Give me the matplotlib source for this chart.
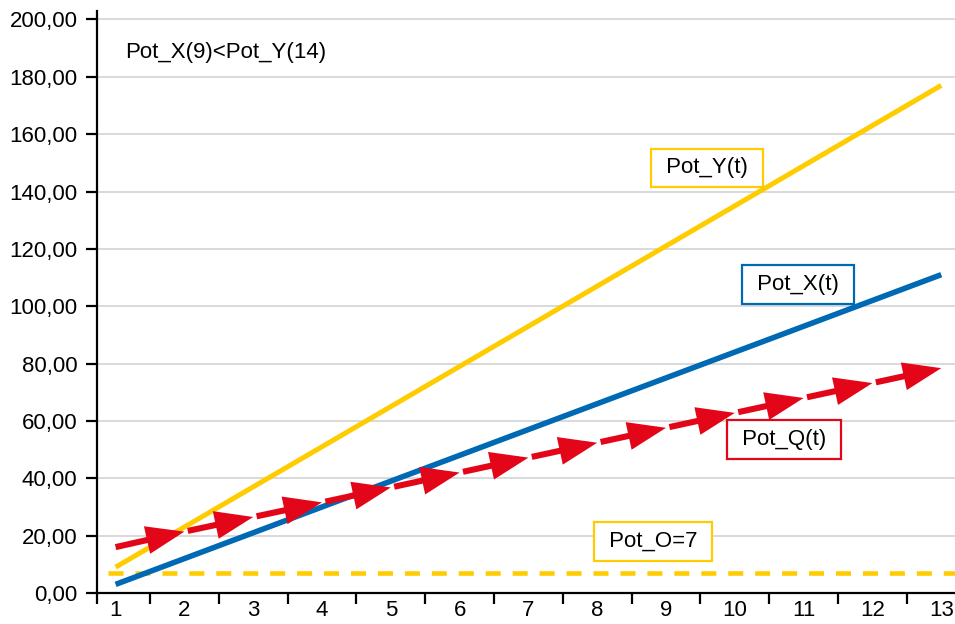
import matplotlib
matplotlib.use("Agg")
import matplotlib.pyplot as plt
from matplotlib.patches import FancyArrowPatch
from matplotlib.ticker import FixedLocator, FuncFormatter

plt.rcParams['font.family'] = ['Liberation Sans', 'DejaVu Sans']
plt.rcParams['lines.scale_dashes'] = False

# ---- data ----
t = [1, 2, 3, 4, 5, 6, 7, 8, 9, 10, 11, 12, 13]
pot_x = [3, 12, 21, 30, 39, 48, 57, 66, 75, 84, 93, 102, 111]
pot_y = [9, 23, 37, 51, 65, 79, 93, 107, 121, 135, 149, 163, 177]
pot_q = [16.0, 21.4, 26.5, 31.6, 36.8, 42.0, 47.2, 52.4, 57.6, 62.8, 68.0, 73.2, 78.4]
pot_o = 7
y_ticks = [0, 20, 40, 60, 80, 100, 120, 140, 160, 180, 200]
x_labels = [str(v) for v in t]

YELLOW = '#FFCC00'
BLUE = '#0069B4'
RED = '#E30618'
FS = 16

fig = plt.figure(figsize=(9.55, 6.24), dpi=100)
ax = fig.add_axes([97/955, 1 - 593/624, 858/955, (593 - 11.4)/624])
ax.set_xlim(0.73, 13.2)
ax.set_ylim(0, 202.8)

# grid
for yv in y_ticks[1:]:
    ax.axhline(yv, color='#D3D3D3', lw=1.2, zorder=0)

# lines
ax.plot(t, pot_y, color=YELLOW, lw=3.6, solid_capstyle='butt', zorder=3)
ax.plot(t, pot_x, color=BLUE, lw=4.0, solid_capstyle='butt', zorder=3)
ax.plot([0.89, 13.2], [pot_o, pot_o], color=YELLOW, lw=3.3,
        dashes=(10.8, 8.6), solid_capstyle='butt', dash_capstyle='butt', zorder=2)

# red arrows
for i in range(len(t) - 1):
    arr = FancyArrowPatch((t[i], pot_q[i]), (t[i + 1], pot_q[i + 1]),
                          arrowstyle='-|>,head_length=19,head_width=7',
                          mutation_scale=1, color=RED, lw=4.4,
                          shrinkA=2.5 if i > 0 else 0, shrinkB=0,
                          capstyle='butt', joinstyle='miter', zorder=4)
    ax.add_patch(arr)

# spines and ticks
for s in ['top', 'right']:
    ax.spines[s].set_visible(False)
for s in ['left', 'bottom']:
    ax.spines[s].set_linewidth(1.6)
    ax.spines[s].set_color('black')

ax.yaxis.set_major_locator(FixedLocator(y_ticks))
ax.yaxis.set_major_formatter(FuncFormatter(lambda v, p: f"{v:.2f}".replace('.', ',')))
ax.tick_params(axis='y', length=8, width=1.6, pad=6, labelsize=FS, direction='out')

ax.xaxis.set_major_locator(FixedLocator([0.73] + [v + 0.5 for v in t[:-1]]))
ax.xaxis.set_major_formatter(FuncFormatter(lambda v, p: ''))
ax.xaxis.set_minor_locator(FixedLocator(t))
ax.set_xticks(t, x_labels, minor=True)
ax.tick_params(axis='x', which='major', length=8, width=1.6, direction='out')
ax.tick_params(axis='x', which='minor', length=0, pad=5, labelsize=FS)

# annotations
ax.text(1.137, 186.4, 'Pot_X(9)<Pot_Y(14)', fontsize=FS, ha='left', va='baseline', zorder=6)

def box(x, y, s, c):
    ax.text(x, y, ' ' + s + ' ', fontsize=FS, ha='center', va='center', zorder=6,
            bbox=dict(boxstyle='square,pad=0.4', fc='white', ec=c, lw=1.6))

box(9.59, 148.2, 'Pot_Y(t)', YELLOW)
box(10.92, 107.5, 'Pot_X(t)', BLUE)
box(10.715, 53.6, 'Pot_Q(t)', RED)
box(8.81, 18.0, 'Pot_O=7', YELLOW)

fig.savefig('out.png', dpi=100)
